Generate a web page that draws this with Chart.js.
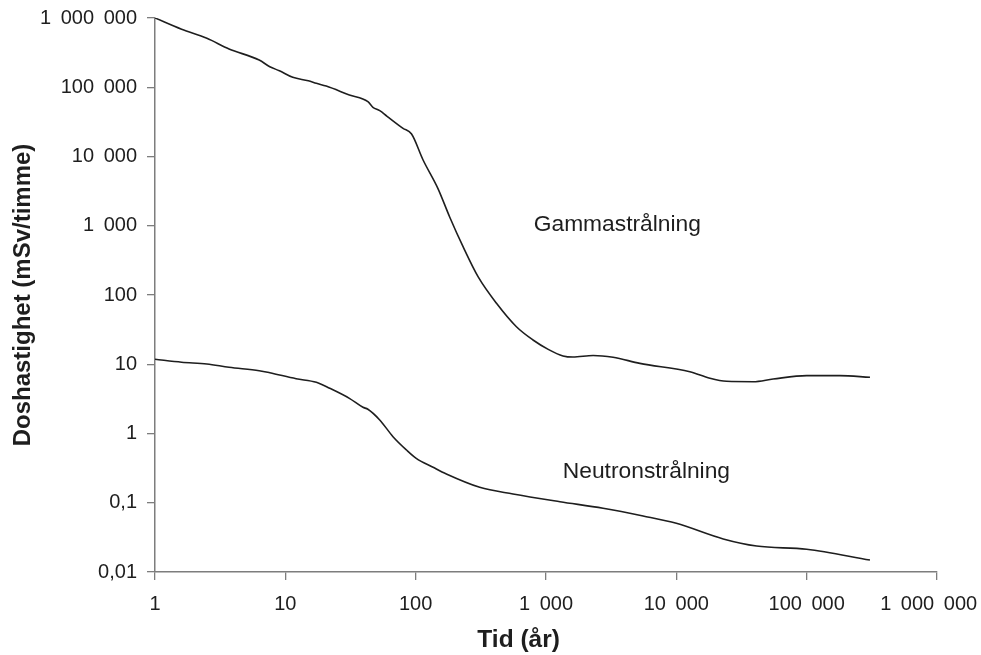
<!DOCTYPE html>
<html lang="sv">
<head>
<meta charset="utf-8">
<title>Doshastighet över tid</title>
<script src="https://cdn.jsdelivr.net/npm/chart.js@4"></script>
<style>
  html, body { margin: 0; padding: 0; background: #ffffff; }
  #wrap { width: 981px; height: 655px; }
  canvas { display: block; }
</style>
</head>
<body>
<div id="wrap"><canvas id="chart" width="981" height="655"></canvas></div>
<script>
// Tid (år) och doshastighet (mSv/timme) för gammastrålning
const gammaYears = [1, 1.6, 2.5, 3.7, 6.3, 7.6, 9, 11.4, 15, 17.3, 20.6, 31, 43, 47, 53, 60, 80, 93,
  114, 148, 182, 231, 301, 417, 593, 795, 1040, 1350, 1610, 2300, 3270, 5250, 12700, 18100, 24300,
  38900, 55300, 100000, 180000, 306000];
const gammaDose = [1000000, 687000, 509000, 357000, 247000, 198000, 173000, 139000, 124000, 114000,
  104000, 77300, 61800, 51300, 45900, 38400, 25500, 21100, 8900, 3470, 1350, 498, 184, 75.9, 34.8,
  22.4, 16.4, 13.2, 12.7, 13.4, 12.6, 10.3, 7.8, 6.27, 5.67, 5.6, 6.12, 6.84, 6.84, 6.48];

// Tid (år) och doshastighet (mSv/timme) för neutronstrålning
const neutronYears = [1, 1.6, 2.5, 3.7, 6.3, 7.6, 12.1, 17.3, 21.9, 31, 39.4, 43, 53, 67, 85, 101,
  136, 172, 310, 558, 1280, 2740, 5560, 10000, 22900, 41300, 100000, 306000];
const neutronDose = [11.8, 10.7, 10.1, 9.04, 8.07, 7.54, 6.18, 5.49, 4.5, 3.22, 2.39, 2.24, 1.57,
  0.90, 0.578, 0.438, 0.325, 0.26, 0.167, 0.134, 0.1035, 0.0832, 0.0644, 0.0505, 0.030, 0.0237,
  0.0213, 0.0149];

// Axelmarkeringar (tiopotenser)
const xTicks = [1, 10, 100, 1000, 10000, 100000, 1000000];
const yTicks = [0.01, 0.1, 1, 10, 100, 1000, 10000, 100000, 1000000];

// Kurvetiketter: text och ankarpunkt i datakoordinater
const curveLabels = [
  { text: 'Gammastrålning', x: 805, y: 1025 },
  { text: 'Neutronstrålning', x: 1345, y: 0.278 }
];
const xTitle = 'Tid (år)';
const yTitle = 'Doshastighet (mSv/timme)';

const FONT = "'Liberation Sans', Arial, Helvetica, sans-serif";
const AXIS = '#7d7d7d';
const INK = '#1e1e1e';

// Svensk talformatering: mellanrum som tusentalsavgränsare, komma som decimaltecken
function svNumber(v) {
  if (v < 1) return String(v).replace('.', ',');
  return String(Math.round(v)).replace(/\B(?=(\d{3})+(?!\d))/g, ' \u2009');
}

function toPoints(xs, ys) {
  return xs.map((x, i) => ({ x: x, y: ys[i] }));
}

const annotations = {
  id: 'annotations',
  afterDraw(chart) {
    const ctx = chart.ctx;
    const xs = chart.scales.x, ys = chart.scales.y;
    ctx.save();
    ctx.fillStyle = INK;
    ctx.font = '22.8px ' + FONT;
    ctx.textAlign = 'left';
    ctx.textBaseline = 'middle';
    curveLabels.forEach(l => {
      ctx.fillText(l.text, xs.getPixelForValue(l.x), ys.getPixelForValue(l.y));
    });
    ctx.font = 'bold 24.5px ' + FONT;
    ctx.textAlign = 'center';
    ctx.fillText(xTitle, chart.chartArea.left + 0.465 * (chart.chartArea.right - chart.chartArea.left), 640);
    ctx.restore();
  }
};

new Chart(document.getElementById('chart'), {
  type: 'line',
  data: {
    datasets: [
      {
        label: 'Gammastrålning',
        data: toPoints(gammaYears, gammaDose),
        borderColor: INK,
        borderWidth: 1.6,
        pointRadius: 0,
        fill: false,
        cubicInterpolationMode: 'monotone'
      },
      {
        label: 'Neutronstrålning',
        data: toPoints(neutronYears, neutronDose),
        borderColor: INK,
        borderWidth: 1.6,
        pointRadius: 0,
        fill: false,
        cubicInterpolationMode: 'monotone'
      }
    ]
  },
  options: {
    responsive: false,
    animation: false,
    events: [],
    layout: { padding: { top: 18, right: 44, bottom: 0, left: 0 } },
    plugins: {
      legend: { display: false },
      tooltip: { enabled: false }
    },
    scales: {
      x: {
        type: 'logarithmic',
        min: 1,
        max: 1000000,
        afterBuildTicks(scale) { scale.ticks = xTicks.map(v => ({ value: v })); },
        afterFit(scale) { scale.height = 83; scale.paddingLeft = 0; scale.paddingRight = 0; },
        grid: { drawOnChartArea: false, drawTicks: true, tickLength: 8, color: AXIS, lineWidth: 1.3 },
        border: { display: true, color: AXIS, width: 1.5 },
        ticks: {
          autoSkip: false,
          maxRotation: 0,
          padding: 12,
          color: INK,
          font: { family: FONT, size: 20 },
          // sista etiketten hålls inom ritytans högerkant
          callback: (v) => svNumber(v) + (v >= 1000000 ? '   ' : '')
        }
      },
      y: {
        type: 'logarithmic',
        min: 0.01,
        max: 1000000,
        afterBuildTicks(scale) { scale.ticks = yTicks.map(v => ({ value: v })); },
        afterFit(scale) { scale.width = 155; scale.paddingTop = 0; scale.paddingBottom = 0; },
        grid: { drawOnChartArea: false, drawTicks: true, tickLength: 8, color: AXIS, lineWidth: 1.3 },
        border: { display: true, color: AXIS, width: 1.5 },
        ticks: {
          autoSkip: false,
          padding: 10,
          color: INK,
          font: { family: FONT, size: 20 },
          callback: (v) => svNumber(v)
        },
        title: {
          display: true,
          text: yTitle,
          color: INK,
          font: { family: FONT, size: 24, weight: 'bold' },
          padding: { top: 9, bottom: 0 }
        }
      }
    }
  },
  plugins: [annotations]
});
</script>
</body>
</html>
